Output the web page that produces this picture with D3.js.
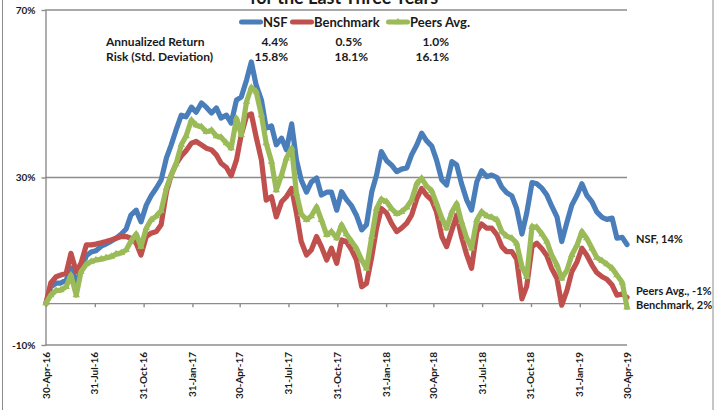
<!DOCTYPE html>
<html><head><meta charset="utf-8">
<script src="https://cdn.jsdelivr.net/npm/d3@7"></script>
<style>
body{margin:0;background:#fff}
svg{display:block}
text{font-family:Lato,"Liberation Sans",sans-serif;font-weight:700;fill:#1a1a1a}
</style>
</head><body>
<svg id="c" width="718" height="410"></svg>
<script>
// ---------- data (cumulative return, %) ----------
const seriesNames = ["NSF", "Benchmark", "Peers Avg."];
const startDate = "2016-04-30", endDate = "2019-04-30";
const nsf = [0,3.9,4.8,4.8,5.5,8.4,4.8,7.9,11.3,12.2,
 12.5,13.6,14.1,14.8,15.5,16.5,17.7,21.0,22.2,19.4,
 23.4,25.6,27.5,29.4,34.7,37.8,41.3,44.9,44.5,46.8,
 45.6,47.8,46.8,45.4,46.6,44.2,44.9,43.0,48.5,49.2,
 53.3,57.6,52.1,48.5,41.8,42.3,37.8,39.4,36.6,42.8,
 34.2,29.4,26.5,28.9,29.9,25.8,26.5,26.5,22.2,26.6,
 24.8,23.2,21.0,17.5,18.7,26.6,30.6,36.2,34.0,33.0,
 31.4,32.0,32.3,35.4,37.8,40.6,38.8,37.5,34.2,29.4,
 28.2,33.8,33.0,28.6,24.6,22.2,29.0,31.6,30.2,30.6,
 30.0,27.7,26.4,25.6,22.6,16.5,21.5,28.8,28.5,27.4,
 25.8,23.2,20.6,14.7,19.4,23.4,25.8,28.5,25.8,24.2,
 21.8,20.5,20.0,20.3,15.5,15.7,14.0];
const benchmark = [0,4.8,6.3,6.7,7.1,11.9,7.5,9.5,13.9,13.9,
 14.1,14.4,14.7,15.1,15.5,15.9,15.9,15.5,14.3,11.5,
 15.9,16.7,17.1,18.7,26.6,30.6,33.2,35.1,36.4,38.2,
 38.6,37.8,37.0,36.6,35.4,33.4,32.4,30.4,34.2,40.2,
 44.7,45.2,39.7,34.2,24.6,25.4,20.6,24.2,25.4,27.4,
 21.5,14.7,11.5,12.7,15.9,13.5,10.3,13.1,9.5,15.1,
 14.7,12.7,10.3,3.9,4.7,11.1,17.9,22.6,21.5,19.1,
 17.1,17.9,19.1,21.0,25.0,27.4,25.8,24.6,21.8,15.9,
 13.5,17.5,21.0,15.9,11.5,8.3,17.1,18.9,17.9,17.9,
 16.3,13.5,12.3,12.3,10.5,1.0,4.0,13.5,14.3,12.9,
 11.3,8.3,5.9,-0.5,3.1,7.5,9.9,13.1,11.5,9.1,
 7.3,6.3,5.7,4.3,1.9,2.2,1.4];
const peers = [0,1.9,3.0,3.1,3.9,6.7,1.9,7.5,9.3,9.9,
 10.3,10.5,10.8,11.1,11.7,12.0,12.7,14.8,16.5,13.5,
 17.9,19.9,20.8,22.1,27.5,30.6,33.2,37.8,39.9,43.7,
 42.5,42.1,40.9,41.3,39.9,39.6,38.2,37.0,44.1,40.2,
 48.1,51.5,50.5,44.9,38.2,33.8,27.0,30.6,34.6,37.0,
 26.2,21.3,19.9,20.8,23.0,19.9,16.3,17.1,15.5,18.7,
 16.5,14.7,13.1,10.3,8.3,15.9,22.6,24.8,24.2,22.6,
 21.3,21.8,22.9,24.6,28.6,29.8,28.0,26.8,23.8,20.3,
 17.9,21.8,23.8,19.4,15.5,13.1,19.9,21.8,20.8,20.5,
 19.9,17.1,16.0,15.5,14.3,8.7,6.3,18.3,18.1,16.5,
 14.7,11.5,9.1,5.9,7.9,11.5,13.9,17.1,15.5,13.1,
 10.9,10.1,9.3,8.3,6.7,4.9,-1.0];
const tickDates = ["2016-04-30","2016-07-31","2016-10-31","2017-01-31","2017-04-30","2017-07-31",
 "2017-10-31","2018-01-31","2018-04-30","2018-07-31","2018-10-31","2019-01-31","2019-04-30"];
const yTicks = [-10, 30, 70];
const statRows = ["Annualized Return", "Risk (Std. Deviation)"];
const statReturn = ["4.4%", "0.5%", "1.0%"];
const statRisk = ["15.8%", "18.1%", "16.1%"];
const endLabels = ["NSF, 14%", "Benchmark, 2%", "Peers Avg., -1%"];
const titleText = "for the Last Three Years";

// ---------- setup ----------
const colors = ["#4a7ebb", "#c0504d", "#9bbb59"];
const parse = d3.timeParse("%Y-%m-%d");
const t0 = parse(startDate), t1 = parse(endDate);
const span = d3.timeDay.count(t0, t1);
const n = nsf.length;
// sampling dates evenly spread across the period (x positions only)
const dates = d3.range(n).map(i => d3.timeDay.offset(t0, Math.round(i * span / (n - 1))));
const series = [nsf, benchmark, peers];

const svg = d3.select("#c");
const x = d3.scaleTime().domain([t0, t1]).range([46, 627]);
const y = d3.scaleLinear().domain([-10, 70]).range([345, 10]);
const grid = "#8c8c8c";

// outer chart border
svg.append("rect").attr("x", 2.5).attr("y", -20).attr("width", 710.5).attr("height", 450)
  .attr("fill", "none").attr("stroke", grid).attr("stroke-width", 1);

// gridlines
svg.append("g").selectAll("line").data(yTicks).join("line")
  .attr("x1", 45).attr("x2", x(t1)).attr("y1", d => y(d)).attr("y2", d => y(d))
  .attr("stroke", grid).attr("stroke-width", 1.4);

// y axis
const ya = svg.append("g").attr("transform", "translate(45.5,0)")
  .call(d3.axisLeft(y).tickValues(yTicks).tickSize(4).tickPadding(6).tickFormat(d => d + "%").tickSizeOuter(0));
ya.select(".domain").attr("stroke", grid).attr("stroke-width", 1.4);
ya.selectAll(".tick line").attr("stroke", grid).attr("stroke-width", 1.4);
ya.selectAll("text").style("font-size", "10px").attr("fill", "#1a1a1a");

// x axis at 0%
const xa = svg.append("g").attr("transform", `translate(0,${y(0)})`)
  .call(d3.axisBottom(x).tickValues(tickDates.map(parse)).tickSize(4).tickFormat("").tickSizeOuter(0));
xa.select(".domain").attr("stroke", grid).attr("stroke-width", 1.4);
xa.selectAll(".tick line").attr("stroke", grid).attr("stroke-width", 1.4);

// x labels at the bottom (low position)
const fmt = d3.timeFormat("%d-%b-%y");
svg.append("g").selectAll("text").data(tickDates.map(parse)).join("text")
  .attr("transform", d => `translate(${x(d)},352) rotate(-90)`)
  .attr("text-anchor", "end").attr("dy", "0.35em")
  .style("font-size", "10px").text(d => fmt(d));

// lines
const line = d3.line().x((d, i) => x(dates[i])).y(d => y(d));
series.forEach((s, k) => {
  svg.append("path").datum(s).attr("d", line)
    .attr("fill", "none").attr("stroke", colors[k]).attr("stroke-width", 5.2)
    .attr("stroke-linejoin", "round").attr("stroke-linecap", "round");
});
// triangle markers on Peers Avg.
svg.append("g").selectAll("path").data(peers).join("path")
  .attr("d", d3.symbol(d3.symbolTriangle, 24))
  .attr("transform", (d, i) => `translate(${x(dates[i])},${y(d)})`)
  .attr("fill", colors[2]);

// title (top is clipped by the picture edge, as in the reference)
svg.append("text").attr("x", 344).attr("y", 4).attr("text-anchor", "middle")
  .style("font-size", "18px").text(titleText);

// legend
const legX = [240, 291, 387];
seriesNames.forEach((nm, k) => {
  svg.append("line").attr("x1", legX[k] + 1.5).attr("x2", legX[k] + 20.5).attr("y1", 22).attr("y2", 22)
    .attr("stroke", colors[k]).attr("stroke-width", 5).attr("stroke-linecap", "round");
  if (k === 2) svg.append("path").attr("d", d3.symbol(d3.symbolTriangle, 24))
    .attr("transform", `translate(${legX[k] + 11},22)`).attr("fill", colors[2]);
  svg.append("text").attr("x", legX[k] + 23).attr("y", 26.5).style("font-size", "13px").text(nm);
});

// stats table
statRows.forEach((r, i) => {
  svg.append("text").attr("x", 106).attr("y", 46 + i * 15).style("font-size", "12px").text(r);
});
const colX = [288, 362, 449];
[statReturn, statRisk].forEach((row, i) => {
  row.forEach((v, j) => {
    svg.append("text").attr("x", colX[j] + (j === 1 && i === 1 ? 6 : 0)).attr("y", 46 + i * 15)
      .attr("text-anchor", "end").style("font-size", "12px").text(v);
  });
});

// end labels
const last = n - 1;
const endDy = [-5, 8, -16];
endLabels.forEach((t, k) => {
  svg.append("text").attr("x", x(t1) + 9).attr("y", y(series[k][last]) + endDy[k])
    .attr("dy", "0.35em").style("font-size", "11px").text(t);
});
</script>
</body></html>
